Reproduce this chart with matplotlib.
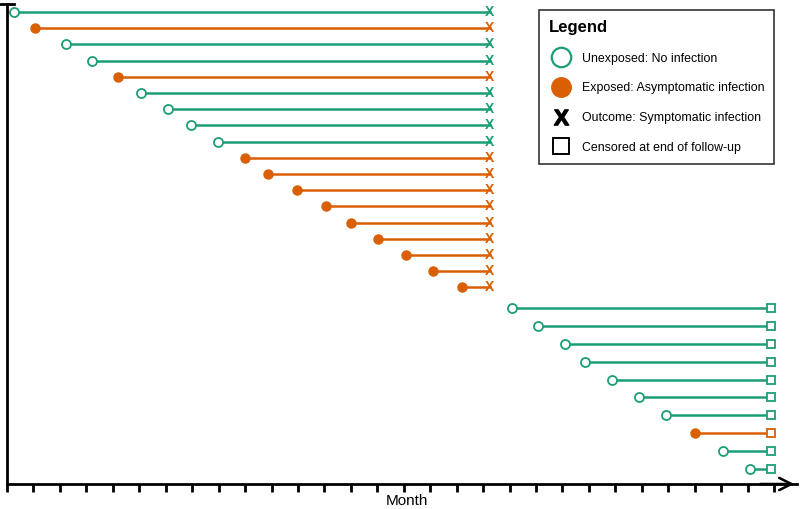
import matplotlib.pyplot as plt
from matplotlib.lines import Line2D
import numpy as np

plt.rcParams['mathtext.fontset'] = 'custom'
plt.rcParams['mathtext.bf'] = 'Liberation Sans:bold'

# start month of each participant
start_group1 = [0.26, 1.06, 2.23, 3.21, 4.2, 5.07, 6.09, 6.96, 7.98, 9.0,
                9.87, 10.96, 12.06, 13.0, 14.03, 15.1, 16.1, 17.2]
exposed_group1 = [0, 1, 0, 0, 1, 0, 0, 0, 0, 1, 1, 1, 1, 1, 1, 1, 1, 1]
outcome_month = 18.26

start_group2 = [19.1, 20.08, 21.1, 21.85, 22.87, 23.9, 24.9, 26.0, 27.07, 28.09]
exposed_group2 = [0, 0, 0, 0, 0, 0, 0, 1, 0, 0]
censor_month = 28.9

n_months = 30
green = '#1b9e77'
orange = '#d95f02'

fig = plt.figure(figsize=(8, 5.09), dpi=100)
ax = fig.add_axes([7/800, 25/509, 790/800, 480/509])

# row layout: second group sits a little lower and a bit more spread out
y1 = np.arange(len(start_group1))
y2 = len(start_group1) + 0.27 + np.arange(len(start_group2)) * 1.105

def draw_row(x0, x1, y, exp, end):
    c = orange if exp else green
    ax.plot([x0, x1], [y, y], color=c, lw=1.8, zorder=2)
    if exp:
        ax.plot(x0, y, 'o', ms=6.5, mfc=c, mec=c, zorder=3)
    else:
        ax.plot(x0, y, 'o', ms=6.5, mfc='white', mec=c, mew=1.3, zorder=3)
    if end == 'x':
        ax.text(x1, y, 'X', color=c, ha='center', va='center', fontsize=10,
                fontfamily='Liberation Sans', fontweight='bold', zorder=4)
    else:
        ax.plot(x1, y, 's', ms=6, mfc='white', mec=c, mew=1.3, zorder=3)

for x0, y, e in zip(start_group1, y1, exposed_group1):
    draw_row(x0, outcome_month, y, e, 'x')
for x0, y, e in zip(start_group2, y2, exposed_group2):
    draw_row(x0, censor_month, y, e, 's')

# axes geometry: month 0 at left spine, 26.45 px per month
ax.set_xlim(0, 790/26.45)
u = 16.2
top = -8/u
ax.set_ylim(top + 480/u, top)

ax.spines['top'].set_visible(False)
ax.spines['right'].set_visible(False)
ax.spines['left'].set_linewidth(2)
ax.spines['bottom'].set_linewidth(2)
ax.set_xticks(np.arange(n_months))
ax.set_xticklabels([])
ax.tick_params(axis='x', direction='out', length=6, width=2)
ax.set_yticks([])
fig.text(407/800, 1 - 501/509, 'Month', ha='center', va='center',
         fontsize=11, fontfamily='Liberation Sans')

# T cap on y axis and arrow on x axis
ax.plot([-0.26, 0.26], [top, top], color='black', lw=2, clip_on=False)
ax.annotate('', xy=(1.0, 0), xytext=(0.95, 0), xycoords='axes fraction',
            arrowprops=dict(arrowstyle='->', lw=1.8, color='black',
                            mutation_scale=22))

handles = [
    Line2D([], [], ls='', marker='o', ms=14, mfc='white', mec=green, mew=1.6),
    Line2D([], [], ls='', marker='o', ms=14, mfc=orange, mec=orange),
    Line2D([], [], ls='', marker='$\\mathbf{X}$', ms=11, color='black'),
    Line2D([], [], ls='', marker='s', ms=12, mfc='white', mec='black', mew=1.4),
]
labels = ['Unexposed: No infection', 'Exposed: Asymptomatic infection',
          'Outcome: Symptomatic infection', 'Censored at end of follow-up']
leg = ax.legend(handles, labels, title='Legend', loc='upper left',
                bbox_to_anchor=(526/790, 1 - 0/480), fancybox=False,
                edgecolor='#333333', framealpha=1, borderpad=0.8,
                labelspacing=1.43, handletextpad=0.65,
                prop={'family': 'Liberation Sans', 'size': 8.9},
                title_fontproperties={'family': 'Liberation Sans',
                                      'size': 12, 'weight': 'bold'})
leg._legend_box.align = 'left'
leg.get_frame().set_linewidth(1.2)

fig.savefig('out.png', dpi=100)
